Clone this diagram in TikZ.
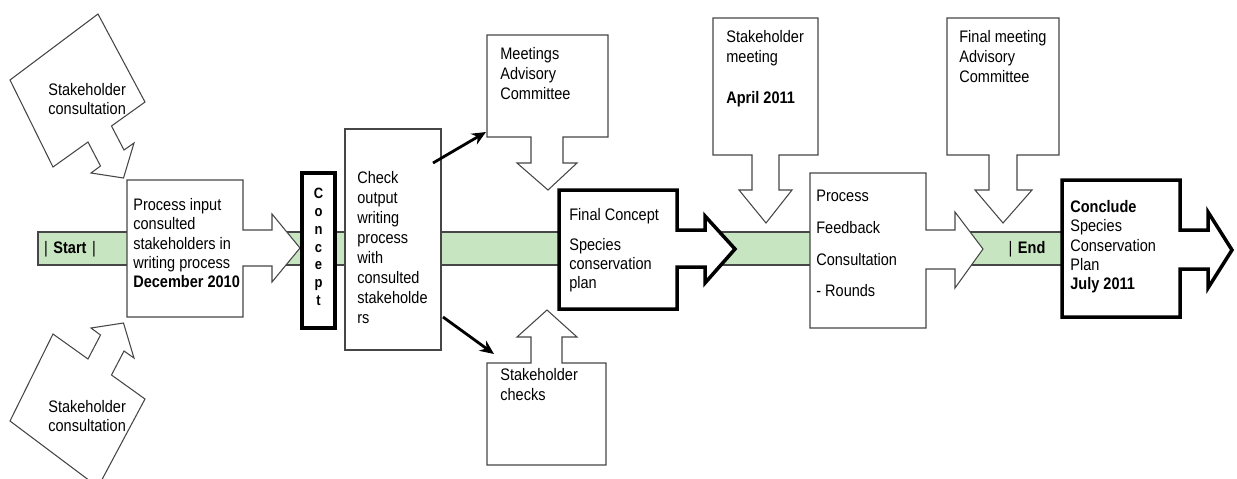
\documentclass[tikz,border=0pt]{standalone}
\usepackage{fontspec}
\setmainfont[FakeStretch=0.87]{Liberation Sans}
\usetikzlibrary{arrows.meta}
\definecolor{bandgreen}{RGB}{200,229,194}
\definecolor{edgegray}{RGB}{70,70,70}
\tikzset{
    band/.style={
        draw=edgegray,
        line width=0.6pt,
        fill=bandgreen
    },
    callout/.style={
        draw=edgegray,
        line width=0.6pt,
        fill=white,
        line join=miter
    },
    keybox/.style={
        draw=black,
        line width=2pt,
        fill=white,
        line join=miter
    },
    lbl/.style={
        anchor=north west,
        align=left,
        inner sep=0pt,
        font=\fontsize{9.5}{11}\selectfont
    },
    tag/.style={
        inner sep=0pt,
        font=\fontsize{9.5}{11}\selectfont
    },
    pointer/.style={
        draw=black,
        line width=1.6pt,
        -{Stealth[length=8pt,width=7pt]}
    }
}

\begin{document}
\begin{tikzpicture}[x=0.02cm, y=-0.02cm]
\useasboundingbox (0,0) rectangle (1237,478);
\clip (0,0) rectangle (1237,478);

% time line
\draw[band] (38,232) rectangle (1062,265);
\node[tag] (start) at (70,249) {|\,\,\textbf{Start}\,\,|};
\node[tag] (end) at (1027,249) {|\,\,\textbf{End}};

% consultations feeding the first step
\draw[callout] (10,80) -- (98,14) -- (145,102) -- (111.5,126) -- (124,150) -- (134,143)
    -- (123.5,178) -- (91,173) -- (100.5,166) -- (88,142) -- (53,167) -- cycle;
\node[lbl] (cons1) at (48,83) {Stakeholder\\consultation};
\draw[callout] (10,421) -- (98,487) -- (145,399) -- (111.5,375) -- (124,351) -- (134,358)
    -- (123.5,323) -- (91,328) -- (100.5,335) -- (88,359) -- (53,334) -- cycle;
\node[lbl] (cons2) at (48,400) {Stakeholder\\consultation};

% first step
\draw[callout] (127,180) -- (243,180) -- (243,230) -- (272,230) -- (272,214) -- (300,248)
    -- (272,282) -- (272,266) -- (243,266) -- (243,317) -- (127,317) -- cycle;
\node[lbl] (input) at (133,198) {Process input\\consulted\\stakeholders in\\writing process\\\textbf{December 2010}};

\draw[keybox] (302,173) rectangle (335,328);
\node[anchor=north, align=center, inner sep=0pt, font=\fontsize{8.5}{10.1}\selectfont\bfseries] (concept) at (318.5,188) {C\\o\\n\\c\\e\\p\\t};

\draw[callout] (345,129) rectangle (441,350);
\node[lbl, font=\fontsize{9.5}{11.4}\selectfont] (check) at (357,171) {Check\\output\\writing\\process\\with\\consulted\\stakeholde\\rs};

% advisory committee and checks
\draw[callout] (487,35) -- (608,35) -- (608,137) -- (563,137) -- (563,163) -- (577,163)
    -- (548,190) -- (517,163) -- (531,163) -- (531,137) -- (487,137) -- cycle;
\node[lbl, font=\fontsize{9.5}{11.3}\selectfont] (advisory) at (500,47) {Meetings\\Advisory\\Committee};
\draw[callout] (487,465) -- (606,465) -- (606,363) -- (562,363) -- (562,337) -- (577,337)
    -- (547,310) -- (517,337) -- (531,337) -- (531,363) -- (487,363) -- cycle;
\node[lbl, font=\fontsize{9.5}{11.6}\selectfont] (checks) at (500,368) {Stakeholder\\checks};

\coordinate (upfrom) at (433,163);
\coordinate (upto) at (486,132);
\coordinate (downfrom) at (443,317);
\coordinate (downto) at (494,354);
\draw[pointer] (upfrom) -- (upto);
\draw[pointer] (downfrom) -- (downto);

% final concept
\draw[keybox] (559,190) -- (677,190) -- (677,230) -- (705,230) -- (705,216) -- (735,249)
    -- (705,283) -- (705,267) -- (677,267) -- (677,309) -- (559,309) -- cycle;
\node[lbl] (concept2) at (569,208) {Final Concept\\[6pt]Species\\conservation\\plan};

% feedback rounds
\draw[callout] (713,18) -- (818,18) -- (818,155) -- (779,155) -- (779,190) -- (792,190)
    -- (766,223) -- (739,190) -- (752,190) -- (752,155) -- (713,155) -- cycle;
\node[lbl, font=\fontsize{9.5}{11.3}\selectfont] (meeting) at (726,30) {Stakeholder\\meeting\\[12pt]\textbf{April 2011}};

\draw[callout] (810,173) -- (926,173) -- (926,230) -- (955,230) -- (955,212) -- (983,249)
    -- (955,288) -- (955,269) -- (926,269) -- (926,328) -- (810,328) -- cycle;
\node[lbl, font=\fontsize{9.5}{18}\selectfont] (feedback) at (816,190) {Process\\Feedback\\Consultation\\- Rounds};

\draw[callout] (947,18) -- (1059,18) -- (1059,155) -- (1017,155) -- (1017,190) -- (1032,190)
    -- (1003,223) -- (975,190) -- (989,190) -- (989,155) -- (947,155) -- cycle;
\node[lbl, font=\fontsize{9.5}{11.3}\selectfont] (finalmeet) at (959,30) {Final meeting\\Advisory\\Committee};

% conclusion
\draw[keybox] (1062,180) -- (1180,180) -- (1180,230) -- (1208,230) -- (1208,212) -- (1232,250)
    -- (1208,288) -- (1208,269) -- (1180,269) -- (1180,317) -- (1062,317) -- cycle;
\node[lbl] (conclude) at (1070,200) {\textbf{Conclude}\\Species\\Conservation\\Plan\\\textbf{July 2011}};

\end{tikzpicture}
\end{document}
